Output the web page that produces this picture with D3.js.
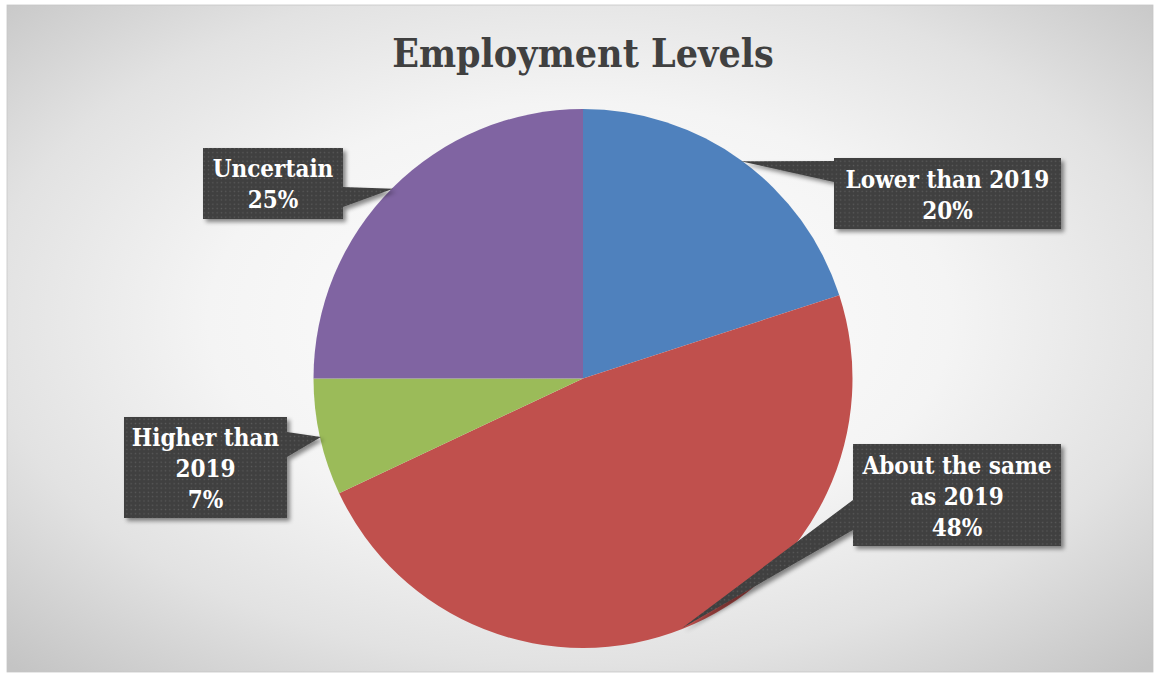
<!DOCTYPE html>
<html>
<head>
<meta charset="utf-8">
<script src="https://cdn.jsdelivr.net/npm/d3@7"></script>
<style>
html,body{margin:0;padding:0;background:#fff;}
svg{display:block;}
</style>
</head>
<body>
<svg id="chart" width="1158" height="675"></svg>
<script>
// ---- data ----
const categories = ["Lower than 2019", "About the same as 2019", "Higher than 2019", "Uncertain"];
const values = [20, 48, 7, 25];
const labelLines = [["Lower than 2019"], ["About the same", "as 2019"], ["Higher than", "2019"], ["Uncertain"]];
const colors = ["#4F81BD", "#C0504D", "#9BBB59", "#8064A2"];
const title = "Employment Levels";

// ---- layout ----
const W = 1158, H = 675;
const frame = {x: 7, y: 5, w: 1146, h: 667};
const cx = 583, cy = 378.5, R = 269.5;
const FONT = "'DejaVu Serif Condensed', 'DejaVu Serif', serif";
// callout boxes: x,y,w,h, side of pointer base, base offsets along that side, baseline of first line
const boxes = [
  {x: 834, y: 158, w: 227, h: 71, side: "left",  b1: 3,  b2: 24, ty: 188},
  {x: 853, y: 444, w: 208, h: 102, side: "left", b1: 56, b2: 86, ty: 474},
  {x: 124, y: 417, w: 163, h: 101, side: "right", b1: 15, b2: 40, ty: 446},
  {x: 203, y: 148, w: 140, h: 71, side: "right", b1: 39, b2: 59, ty: 177}
];
const lineH = 31;

const svg = d3.select("#chart");
const defs = svg.append("defs");

const grad = defs.append("radialGradient").attr("id", "bg")
  .attr("cx", "0.5").attr("cy", "0.47").attr("r", "0.72");
[[0, "#ffffff"], [0.45, "#f4f4f4"], [0.72, "#e2e2e2"], [1, "#c4c4c4"]].forEach(s =>
  grad.append("stop").attr("offset", s[0]).attr("stop-color", s[1]));

const pat = defs.append("pattern").attr("id", "dots").attr("patternUnits", "userSpaceOnUse")
  .attr("width", 4.3).attr("height", 4.3);
pat.append("rect").attr("width", 4.3).attr("height", 4.3).attr("fill", "#404040");
pat.append("rect").attr("x", 1.5).attr("y", 1.5).attr("width", 1.3).attr("height", 1.3).attr("fill", "#5c5c5c");

const sh = defs.append("filter").attr("id", "shadow").attr("x", "-20%").attr("y", "-20%").attr("width", "150%").attr("height", "150%");
sh.append("feDropShadow").attr("dx", 3).attr("dy", 3).attr("stdDeviation", 2.2)
  .attr("flood-color", "#000").attr("flood-opacity", 0.45);

svg.append("rect").attr("x", frame.x).attr("y", frame.y).attr("width", frame.w).attr("height", frame.h)
  .attr("fill", "url(#bg)").attr("stroke", "#c6c6c6").attr("stroke-width", 0.8);

svg.append("text").attr("x", cx).attr("y", 67).attr("text-anchor", "middle")
  .attr("font-family", FONT).attr("font-weight", "bold")
  .attr("font-size", 39).attr("fill", "#404040").text(title);

const pie = d3.pie().sort(null).value(d => d)(values);
const arc = d3.arc().innerRadius(0).outerRadius(R);
const edge = d3.arc().innerRadius(R - 1).outerRadius(R - 1);

const g = svg.append("g").attr("transform", `translate(${cx},${cy})`);
g.selectAll("path.slice").data(pie).enter().append("path").attr("class", "slice")
  .attr("d", arc).attr("fill", (d, i) => colors[i]);

const fmt = d3.format(".0%");
const total = d3.sum(values);

const callouts = svg.append("g");
pie.forEach((d, i) => {
  const b = boxes[i];
  const c = edge.centroid(d);
  const tip = [cx + c[0], cy + c[1]];
  const shape = d3.path();
  shape.moveTo(b.x, b.y);
  if (b.side === "right") {
    shape.lineTo(b.x + b.w, b.y);
    shape.lineTo(b.x + b.w, b.y + b.b1);
    shape.lineTo(tip[0], tip[1]);
    shape.lineTo(b.x + b.w, b.y + b.b2);
    shape.lineTo(b.x + b.w, b.y + b.h);
    shape.lineTo(b.x, b.y + b.h);
  } else {
    shape.lineTo(b.x + b.w, b.y);
    shape.lineTo(b.x + b.w, b.y + b.h);
    shape.lineTo(b.x, b.y + b.h);
    shape.lineTo(b.x, b.y + b.b2);
    shape.lineTo(tip[0], tip[1]);
    shape.lineTo(b.x, b.y + b.b1);
  }
  shape.closePath();
  const cg = callouts.append("g").attr("filter", "url(#shadow)");
  cg.append("path").attr("d", shape.toString()).attr("fill", "url(#dots)");
  const lines = labelLines[i].concat([fmt(values[i] / total)]);
  const t = callouts.append("text").attr("text-anchor", "middle")
    .attr("font-family", FONT).attr("font-weight", "bold")
    .attr("font-size", 24).attr("fill", "#ffffff");
  lines.forEach((ln, k) => {
    t.append("tspan").attr("x", b.x + b.w / 2).attr("y", b.ty + k * lineH).text(ln);
  });
});
</script>
</body>
</html>
